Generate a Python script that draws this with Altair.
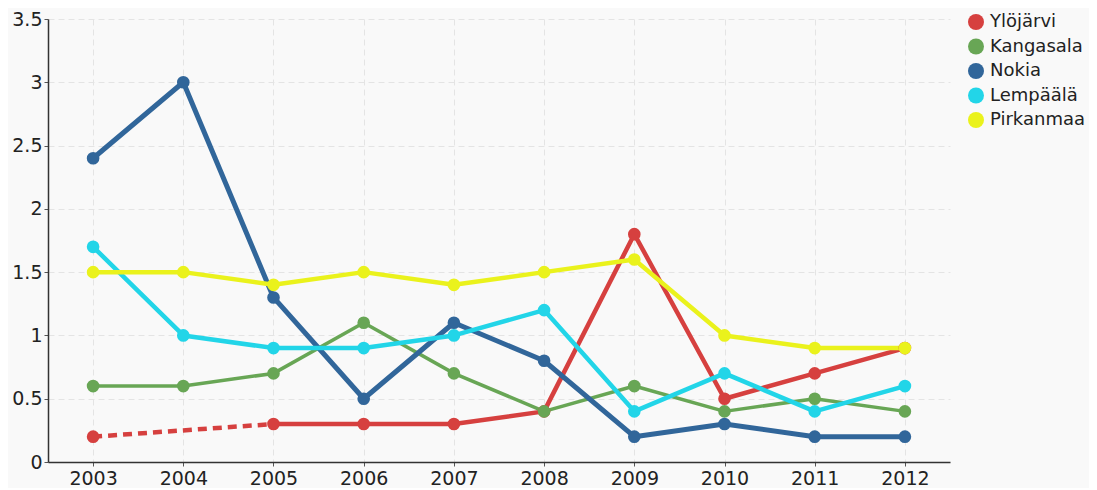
import altair as alt
import pandas as pd

years = [2003, 2004, 2005, 2006, 2007, 2008, 2009, 2010, 2011, 2012]
series = ["Ylöjärvi", "Kangasala", "Nokia", "Lempäälä", "Pirkanmaa"]
ylojarvi = [0.2, None, 0.3, 0.3, 0.3, 0.4, 1.8, 0.5, 0.7, 0.9]
kangasala = [0.6, 0.6, 0.7, 1.1, 0.7, 0.4, 0.6, 0.4, 0.5, 0.4]
nokia = [2.4, 3.0, 1.3, 0.5, 1.1, 0.8, 0.2, 0.3, 0.2, 0.2]
lempaala = [1.7, 1.0, 0.9, 0.9, 1.0, 1.2, 0.4, 0.7, 0.4, 0.6]
pirkanmaa = [1.5, 1.5, 1.4, 1.5, 1.4, 1.5, 1.6, 1.0, 0.9, 0.9]
colors = ["#d6403f", "#68a655", "#31669a", "#22d5e8", "#eaf21c"]
widths = [4.5, 3.5, 5, 4.5, 4.5]

values = [ylojarvi, kangasala, nokia, lempaala, pirkanmaa]

points_rows, solid_rows, dash_rows = [], [], []
for s, vals in zip(series, values):
    seg = 0
    prev = None  # (year, value) of last valid point
    gap = False
    for y, v in zip(years, vals):
        if v is None:
            gap = True
            continue
        points_rows.append({"year": str(y), "series": s, "value": v})
        if gap and prev is not None:
            seg += 1
            dash_rows.append({"year": str(prev[0]), "series": s, "value": prev[1], "seg": f"{s}-d{seg}"})
            dash_rows.append({"year": str(y), "series": s, "value": v, "seg": f"{s}-d{seg}"})
            seg += 1
        gap = False
        solid_rows.append({"year": str(y), "series": s, "value": v, "seg": f"{s}-{seg}"})
        prev = (y, v)

solid_df = pd.DataFrame(solid_rows)
counts = solid_df.groupby("seg")["seg"].transform("count")
solid_df = solid_df[counts > 1]
dash_df = pd.DataFrame(dash_rows)
points_df = pd.DataFrame(points_rows)

FONT = "DejaVu Sans"

x_enc = alt.X("year:O", title=None,
              scale=alt.Scale(type="point", padding=0.5),
              axis=alt.Axis(labelAngle=0, grid=True, gridDash=[6, 4], gridColor="#e4e4e4",
                            domainColor="#333333", domainWidth=1.5, tickColor="#555555",
                            tickSize=4, labelPadding=3, labelFontSize=19, labelColor="#222222",
                            labelFont=FONT))
y_enc = alt.Y("value:Q", title=None,
              scale=alt.Scale(domain=[0, 3.5], nice=False),
              axis=alt.Axis(values=[0, 0.5, 1, 1.5, 2, 2.5, 3, 3.5], format="~g",
                            grid=True, gridDash=[6, 4], gridColor="#e4e4e4",
                            domainColor="#333333", domainWidth=1.5, tickColor="#555555",
                            tickSize=4, labelPadding=2, labelFontSize=19, labelColor="#222222",
                            labelFont=FONT))

color_scale = alt.Scale(domain=series, range=colors)
legend = alt.Legend(title=None, orient="none", legendX=919, legendY=-6,
                    symbolType="circle", symbolSize=256, symbolStrokeWidth=0,
                    labelFontSize=18, labelFont=FONT, labelColor="#222222",
                    labelOffset=5, rowPadding=6.5, padding=0)
color_enc = alt.Color("series:N", scale=color_scale, legend=legend)

layers = []
for s, w in zip(series, widths):
    layers.append(
        alt.Chart(solid_df).transform_filter(alt.datum.series == s)
        .mark_line(strokeCap="round", strokeJoin="round", strokeWidth=w)
        .encode(x=x_enc, y=y_enc, color=color_enc, detail="seg:N")
    )

dashed = alt.Chart(dash_df).mark_line(strokeDash=[9, 6], strokeWidth=4.5).encode(
    x=x_enc, y=y_enc, color=color_enc, detail="seg:N",
)

pts = alt.Chart(points_df).mark_point(filled=True, opacity=1, size=160, shape="circle").encode(
    x=x_enc, y=y_enc, color=color_enc,
)

chart = alt.layer(*layers, dashed, pts).properties(
    width=902, height=443,
    autosize=alt.AutoSizeParams(type="none"),
    padding={"left": 40, "top": 11, "right": 139, "bottom": 26},
    background="#f9f9f9",
).configure_view(stroke=None)

chart.save("out.html", embed_options={"renderer": "svg", "actions": False})
